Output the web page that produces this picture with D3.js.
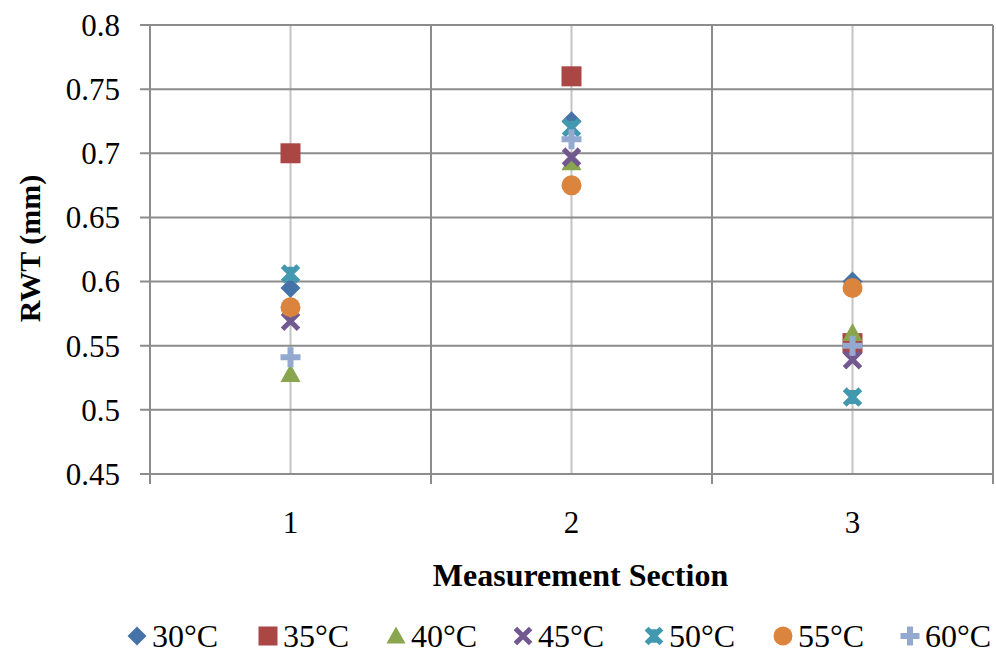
<!DOCTYPE html>
<html>
<head>
<meta charset="utf-8">
<script src="https://cdn.jsdelivr.net/npm/d3@7"></script>
<style>
  body { margin: 0; background: #fff; }
  svg { display: block; font-family: "Liberation Serif", "Times New Roman", serif; }
</style>
</head>
<body>
<div id="chart"></div>
<script>
// measurement sections on the x axis
const sections = [1, 2, 3];
const seriesNames = ["30°C", "35°C", "40°C", "45°C", "50°C", "55°C", "60°C"];
const seriesColors = ["#4572A7", "#AA4643", "#89A54E", "#71588F", "#4198AF", "#DB843D", "#93A9CF"];
const seriesShapes = ["diamond", "square", "triangle", "x", "star", "circle", "plus"];

// RWT (mm) per series, one value per section
const rwt30 = [0.595, 0.725, 0.600];
const rwt35 = [0.700, 0.760, 0.552];
const rwt40 = [0.528, 0.693, 0.560];
const rwt45 = [0.569, 0.697, 0.539];
const rwt50 = [0.606, 0.720, 0.510];
const rwt55 = [0.580, 0.675, 0.595];
const rwt60 = [0.541, 0.711, 0.550];
const seriesValues = [rwt30, rwt35, rwt40, rwt45, rwt50, rwt55, rwt60];

const yTicks = [0.45, 0.5, 0.55, 0.6, 0.65, 0.7, 0.75, 0.8];

const W = 996, H = 666;
const margin = { top: 25, right: 3, bottom: 192, left: 150 };

const svg = d3.select("#chart").append("svg")
    .attr("width", W)
    .attr("height", H);

const x = d3.scaleLinear().domain([0.5, 3.5]).range([margin.left, W - margin.right]);
const y = d3.scaleLinear().domain([0.45, 0.8]).range([H - margin.bottom, margin.top]);

const plotBottom = y(0.45);
const darkGrid = "#8c8c8c";
const lightGrid = "#c4c4c4";

// light vertical lines through each section
svg.append("g").selectAll("line")
    .data(sections)
    .join("line")
    .attr("x1", d => x(d)).attr("x2", d => x(d))
    .attr("y1", y(0.8)).attr("y2", plotBottom)
    .attr("stroke", lightGrid).attr("stroke-width", 2);

// horizontal gridlines + left ticks
svg.append("g").selectAll("line")
    .data(yTicks)
    .join("line")
    .attr("x1", x(0.5) - 10).attr("x2", x(3.5))
    .attr("y1", d => y(d)).attr("y2", d => y(d))
    .attr("stroke", darkGrid).attr("stroke-width", 2);

// category boundaries (with tick below axis)
const bounds = [0.5, 1.5, 2.5, 3.5];
svg.append("g").selectAll("line")
    .data(bounds)
    .join("line")
    .attr("x1", d => x(d)).attr("x2", d => x(d))
    .attr("y1", y(0.8)).attr("y2", plotBottom + 10)
    .attr("stroke", darkGrid).attr("stroke-width", 2);

// y tick labels
svg.append("g").selectAll("text")
    .data(yTicks)
    .join("text")
    .attr("x", 120)
    .attr("y", d => y(d))
    .attr("dy", "0.35em")
    .attr("text-anchor", "end")
    .style("font-size", "31px")
    .text(d => d3.format("")(d));

// x tick labels
svg.append("g").selectAll("text")
    .data(sections)
    .join("text")
    .attr("x", d => x(d))
    .attr("y", 533)
    .attr("text-anchor", "middle")
    .style("font-size", "31px")
    .text(d => d);

svg.append("text")
    .attr("x", x(2) + 9)
    .attr("y", 586)
    .attr("text-anchor", "middle")
    .style("font-size", "32px")
    .style("font-weight", "bold")
    .text("Measurement Section");

svg.append("text")
    .attr("transform", `translate(40,${(y(0.8) + plotBottom) / 2 - 1}) rotate(-90)`)
    .attr("text-anchor", "middle")
    .style("font-size", "30px")
    .style("font-weight", "bold")
    .text("RWT (mm)");

// marker drawing, s = half size
function drawMarker(g, shape, color, s) {
    if (shape === "diamond") {
        g.append("path").attr("d", `M0,${-s}L${s},0L0,${s}L${-s},0Z`).attr("fill", color);
    } else if (shape === "square") {
        g.append("rect").attr("x", -s).attr("y", -s).attr("width", 2 * s).attr("height", 2 * s).attr("fill", color);
    } else if (shape === "triangle") {
        g.append("path").attr("d", `M0,${-s}L${s},${s * 0.8}L${-s},${s * 0.8}Z`).attr("fill", color);
    } else if (shape === "circle") {
        g.append("circle").attr("r", s).attr("fill", color);
    } else if (shape === "x") {
        const a = s * 0.8;
        g.append("path").attr("d", `M${-a},${-a}L${a},${a}M${a},${-a}L${-a},${a}`)
            .attr("stroke", color).attr("stroke-width", 5).attr("fill", "none");
    } else if (shape === "star") {
        const a = s * 0.78;
        g.append("path").attr("d", `M${-a},${-a}L${a},${a}M${a},${-a}L${-a},${a}M0,${-s * 0.7}L0,${s * 0.7}`)
            .attr("stroke", color).attr("stroke-width", 5.5).attr("fill", "none");
    } else if (shape === "plus") {
        g.append("path").attr("d", `M${-s},0L${s},0M0,${-s}L0,${s}`)
            .attr("stroke", color).attr("stroke-width", 6).attr("fill", "none");
    }
}

// series points
seriesNames.forEach((name, i) => {
    const pts = sections.map((sec, j) => ({ sec, v: seriesValues[i][j] }));
    svg.append("g").attr("class", "series").selectAll("g")
        .data(pts)
        .join("g")
        .attr("transform", d => `translate(${x(d.sec)},${y(d.v)})`)
        .each(function () { drawMarker(d3.select(this), seriesShapes[i], seriesColors[i], 10); });
});

// legend
const legendX = [137, 268, 396, 523, 654, 783, 910];
const legend = svg.append("g").selectAll("g")
    .data(seriesNames)
    .join("g")
    .attr("transform", (d, i) => `translate(${legendX[i]},636)`);
legend.each(function (d, i) {
    const g = d3.select(this);
    drawMarker(g, seriesShapes[i], seriesColors[i], 9.5);
    g.append("text")
        .attr("x", 15)
        .attr("dy", "0.35em")
        .style("font-size", "32px")
        .text(d);
});
</script>
</body>
</html>
